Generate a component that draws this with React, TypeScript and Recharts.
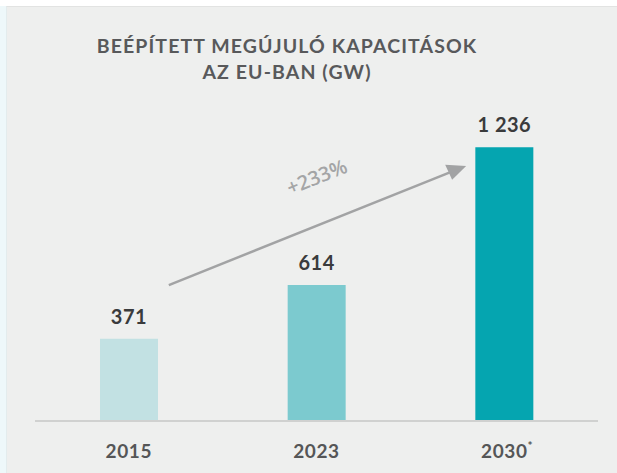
import { BarChart, Bar, XAxis, YAxis, Cell, LabelList, ReferenceLine } from "recharts";

const years = ["2015", "2023", "2030*"];
const capacities = [371, 614, 1236];
const barColors = ["#c2e1e3", "#7ccacf", "#05a5b0"];
const growthLabel = "+233%";
const titleLines = ["BEÉPÍTETT MEGÚJULÓ KAPACITÁSOK", "AZ EU-BAN (GW)"];

const data = years.map((year, i) => ({ year, value: capacities[i] }));

const formatValue = (v: any) => String(v).replace(/\B(?=(\d{3})+(?!\d))/g, " ");

const YearTick = (props: any) => {
  const { x, y, payload } = props;
  const label = String(payload.value);
  const star = label.endsWith("*");
  const base = star ? label.slice(0, -1) : label;
  return (
    <text
      x={star ? x + 3 : x}
      y={y + 29}
      textAnchor="middle"
      fill="#555657"
      fontFamily="Lato"
      fontWeight={700}
      fontSize={19}
      letterSpacing={0.6}
    >
      {base}
      {star && (
        <tspan fontSize={12} dy={-8}>
          *
        </tspan>
      )}
    </text>
  );
};

const GrowthArrow = (props: any) => {
  const { x1, y1, x2, y2 } = props;
  const sx = x1 + 40;
  const ex = x2 - 38;
  const angle = (Math.atan2(y2 - y1, ex - sx) * 180) / Math.PI;
  const mx = (sx + ex) / 2;
  const my = (y1 + y2) / 2;
  return (
    <g>
      <line x1={sx} y1={y1} x2={ex - 10} y2={y2 + 4} stroke="#a2a3a4" strokeWidth={2.5} />
      <path
        d={`M${ex},${y2} l-21,-1 l7,15 z`}
        fill="#a2a3a4"
        transform={`rotate(${angle + 22} ${ex} ${y2})`}
      />
      <text
        x={mx + 2}
        y={my - 42}
        textAnchor="middle"
        fill="#a4a5a6"
        fontFamily="Open Sans"
        fontWeight={600}
        fontSize={20}
        transform={`rotate(${angle} ${mx + 2} ${my - 42})`}
      >
        {growthLabel}
      </text>
    </g>
  );
};

export default function App() {
  return (
    <div style={{ position: "fixed", top: 0, left: 0, width: 617, height: 473, background: "#ffffff" }}>
      <div style={{ position: "absolute", left: 0, top: 6, width: 6, height: 467, background: "#eef8fa" }} />
      <div
        style={{
          position: "absolute",
          left: 6,
          top: 6,
          right: 0,
          bottom: 0,
          background: "#eeefee",
          borderTop: "1px solid #e2e3e2",
          borderLeft: "1px solid #e3eced",
        }}
      />
      <div
        style={{
          position: "absolute",
          left: 37,
          width: 500,
          top: 33,
          textAlign: "center",
          fontFamily: "Lato",
          fontWeight: 700,
          fontSize: 19.5,
          letterSpacing: 1.1,
          lineHeight: "26px",
          color: "#58595b",
        }}
      >
        {titleLines.map((t) => (
          <div key={t}>{t}</div>
        ))}
      </div>
      <div style={{ position: "absolute", left: 0, top: 0 }}>
        <BarChart width={617} height={473} data={data} margin={{ top: 111, right: 19, bottom: 12, left: 35 }}>
          <YAxis hide domain={[0, 1400]} />
          <XAxis
            dataKey="year"
            height={40}
            axisLine={{ stroke: "#d0d1d0", strokeWidth: 2 }}
            tickLine={false}
            tick={<YearTick />}
          />
          <Bar dataKey="value" barSize={58} isAnimationActive={false}>
            {data.map((d, i) => (
              <Cell key={d.year} fill={barColors[i]} />
            ))}
            <LabelList
              dataKey="value"
              position="top"
              offset={15}
              formatter={formatValue}
              fill="#3a3b3c"
              fontFamily="Lato"
              fontWeight={700}
              fontSize={20}
              letterSpacing={0.5}
            />
          </Bar>
          <ReferenceLine
            segment={[
              { x: "2015", y: 614 },
              { x: "2030*", y: 1152 },
            ]}
            shape={<GrowthArrow />}
            ifOverflow="visible"
          />
        </BarChart>
      </div>
    </div>
  );
}
